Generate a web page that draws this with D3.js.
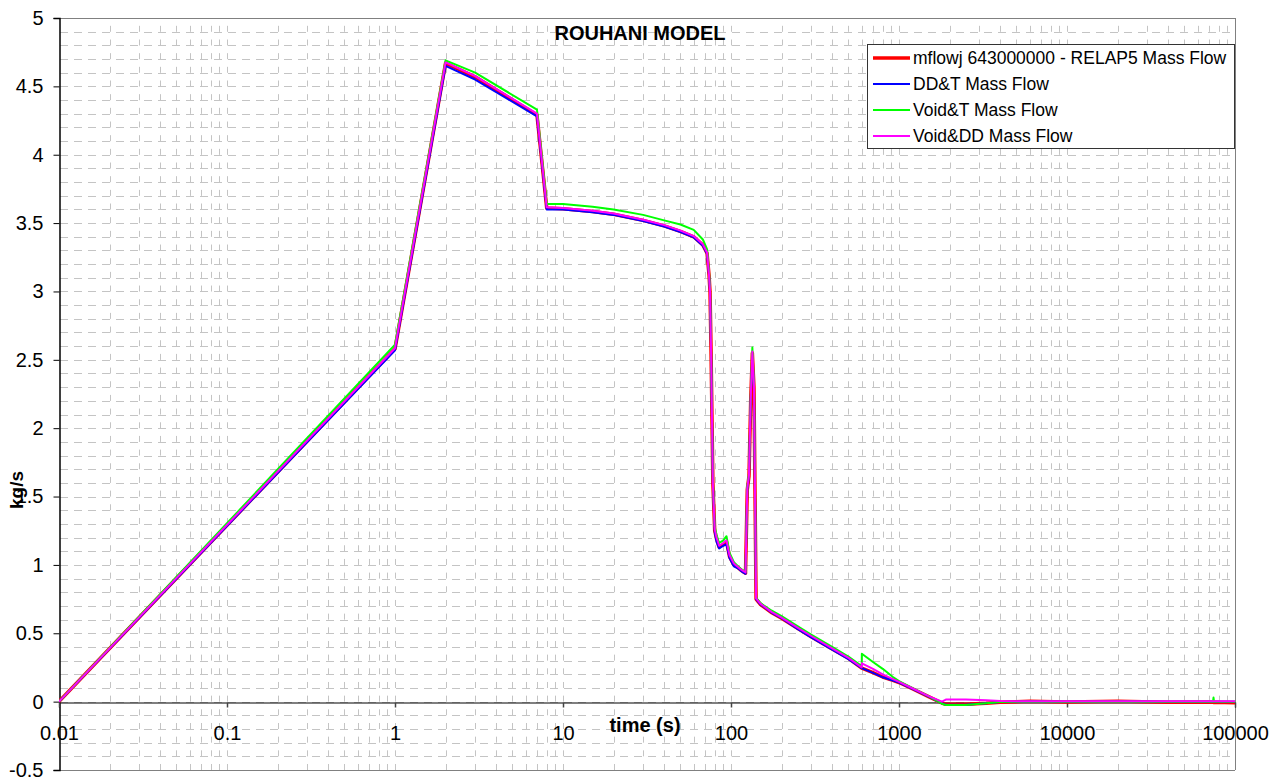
<!DOCTYPE html>
<html>
<head>
<meta charset="utf-8">
<script src="https://cdn.jsdelivr.net/npm/d3@7"></script>
<style>
html,body{margin:0;padding:0;background:#fff;}
svg{display:block;font-family:Arial,"Liberation Sans",sans-serif;}
</style>
</head>
<body>
<svg id="chart" width="1283" height="780"></svg>
<script>
// ---- data ----
const times = [0.01, 1, 2, 3, 7, 8, 10, 15, 20, 30,
  40, 50, 60, 68, 72, 74, 75, 76, 77, 78,
  80, 82, 85, 90, 94, 98, 104, 110, 115, 120,
  122, 125, 128, 131, 134, 137, 141, 150, 175, 200,
  250, 300, 400, 500, 600, 601, 700, 800, 920, 1000,
  1200, 1500, 1800, 1900, 2500, 3300, 4000, 6000, 10000, 20000,
  40000, 74000, 74500, 75000, 100000];

const relap5 = [0, 2.58, 4.67, 4.57, 4.29, 3.61, 3.605, 3.585, 3.565, 3.52,
  3.48, 3.44, 3.40, 3.34, 3.28, 3.12, 3.00, 2.60, 2.10, 1.60,
  1.25, 1.19, 1.13, 1.15, 1.17, 1.06, 1.00, 0.98, 0.96, 0.945,
  0.94, 1.55, 1.65, 2.20, 2.55, 2.30, 0.75, 0.71, 0.65, 0.61,
  0.535, 0.475, 0.385, 0.317, 0.245, 0.245, 0.212, 0.18, 0.155, 0.14,
  0.094, 0.037, -0.01, -0.02, -0.02, -0.012, -0.004, 0.002, -0.003, 0.002,
  -0.004, -0.003, -0.006, -0.005, -0.008];

const ddt = [0, 2.57, 4.65, 4.55, 4.28, 3.60, 3.60, 3.58, 3.56, 3.515,
  3.475, 3.435, 3.395, 3.335, 3.275, 3.12, 3.00, 2.60, 2.10, 1.60,
  1.24, 1.17, 1.12, 1.14, 1.15, 1.05, 0.99, 0.975, 0.955, 0.94,
  0.935, 1.55, 1.65, 2.20, 2.52, 2.30, 0.75, 0.71, 0.65, 0.61,
  0.53, 0.47, 0.38, 0.31, 0.245, 0.245, 0.21, 0.178, 0.155, 0.14,
  0.094, 0.037, -0.012, -0.022, -0.022, -0.012, -0.003, 0.001, 0.0, 0.001,
  0.0, 0.0, 0.0, 0.0, 0.0];

const voidT = [0, 2.61, 4.69, 4.60, 4.33, 3.64, 3.64, 3.62, 3.60, 3.56,
  3.52, 3.49, 3.45, 3.38, 3.31, 3.14, 3.02, 2.62, 2.12, 1.62,
  1.28, 1.22, 1.16, 1.18, 1.21, 1.09, 1.02, 0.99, 0.97, 0.955,
  0.95, 1.57, 1.67, 2.22, 2.59, 2.32, 0.76, 0.72, 0.665, 0.625,
  0.55, 0.49, 0.40, 0.33, 0.26, 0.35, 0.29, 0.24, 0.18, 0.15,
  0.10, 0.04, -0.015, -0.025, -0.025, -0.012, -0.002, 0.0, 0.0, 0.0,
  0.0, 0.0, 0.03, 0.0, 0.0];

const voidDD = [0, 2.585, 4.675, 4.575, 4.30, 3.615, 3.61, 3.59, 3.57, 3.525,
  3.485, 3.445, 3.405, 3.345, 3.285, 3.12, 3.00, 2.60, 2.10, 1.60,
  1.26, 1.20, 1.14, 1.16, 1.18, 1.07, 1.01, 0.985, 0.965, 0.95,
  0.945, 1.56, 1.66, 2.21, 2.56, 2.31, 0.755, 0.715, 0.655, 0.615,
  0.54, 0.48, 0.39, 0.32, 0.25, 0.28, 0.24, 0.20, 0.165, 0.145,
  0.098, 0.04, 0.0, 0.015, 0.015, 0.01, 0.004, 0.003, 0.002, 0.002,
  0.002, 0.002, 0.002, 0.002, 0.002];

const seriesNames = ["mflowj 643000000 - RELAP5 Mass Flow", "DD&T Mass Flow", "Void&T Mass Flow", "Void&DD Mass Flow"];
const seriesColors = ["#ff0000", "#0000ff", "#00ff00", "#ff00ff"];
const seriesWidths = [3.5, 2, 2, 2];
const seriesValues = [relap5, ddt, voidT, voidDD];

const xTicks = [0.01, 0.1, 1, 10, 100, 1000, 10000, 100000];
const xTickLabels = ["0.01", "0.1", "1", "10", "100", "1000", "10000", "100000"];
const yTicks = [-0.5, 0, 0.5, 1, 1.5, 2, 2.5, 3, 3.5, 4, 4.5, 5];
const yTickLabels = ["-0.5", "0", "0.5", "1", "1.5", "2", "2.5", "3", "3.5", "4", "4.5", "5"];

const titleText = "ROUHANI MODEL";
const xTitle = "time (s)";
const yTitle = "kg/s";

// ---- layout ----
const L = 59, R = 1235, T = 18, B = 770;
const svg = d3.select("#chart");
const x = d3.scaleLog().domain([0.01, 100000]).range([L, R]);
const y = d3.scaleLinear().domain([-0.5, 5]).range([B, T]);

svg.append("defs").append("clipPath").attr("id", "clip")
  .append("rect").attr("x", L).attr("y", T).attr("width", R - L).attr("height", B - T);

// grid
const grid = svg.append("g");
const minorX = [];
for (let e = -2; e <= 4; e++) for (let k = 1; k <= 9; k++) {
  const v = k * Math.pow(10, e);
  if (v > 0.01 && v < 100000) minorX.push(+v.toPrecision(3));
}
const hy = d3.range(-4, 50).map(i => i / 10);
grid.selectAll(".hg").data(hy).join("line")
  .attr("x1", L + 1).attr("x2", R)
  .attr("y1", d => Math.round(y(d)) + 0.5).attr("y2", d => Math.round(y(d)) + 0.5)
  .attr("stroke", "#c4c4c4").attr("stroke-width", 1)
  .attr("stroke-dasharray", "8,6");
grid.selectAll(".vg").data(minorX).join("line")
  .attr("x1", d => Math.round(x(d)) + 0.5).attr("x2", d => Math.round(x(d)) + 0.5)
  .attr("y1", B).attr("y2", T)
  .attr("stroke", "#c4c4c4").attr("stroke-width", 1)
  .attr("stroke-dasharray", "6,7.67");

// frame
svg.append("line").attr("x1", L).attr("x2", R).attr("y1", T + 0.5).attr("y2", T + 0.5).attr("stroke", "#808080");
svg.append("line").attr("x1", R + 0.5).attr("x2", R + 0.5).attr("y1", T).attr("y2", B).attr("stroke", "#808080");
svg.append("line").attr("x1", L).attr("x2", R).attr("y1", B + 0.5).attr("y2", B + 0.5).attr("stroke", "#808080");

// y axis title (drawn beneath tick labels)
svg.append("text").attr("transform", "translate(23,490) rotate(-90)").attr("text-anchor", "middle")
  .attr("font-size", 19).attr("font-weight", "bold").text(yTitle);

// y axis
const yAxis = d3.axisLeft(y).tickValues(yTicks).tickSize(6).tickPadding(10)
  .tickFormat((d, i) => yTickLabels[i]);
const gy = svg.append("g").attr("transform", `translate(${L + 0.5},0)`).call(yAxis);
gy.select(".domain").attr("stroke", "#000").attr("stroke-width", 1.5);
gy.selectAll(".tick line").attr("stroke", "#000");
gy.selectAll("text").attr("font-size", 20).attr("fill", "#000")
  .attr("font-family", "Arial, 'Liberation Sans', sans-serif");

// x axis at y=0
const xAxis = d3.axisBottom(x).tickValues(xTicks).tickSize(5).tickPadding(18)
  .tickFormat((d, i) => xTickLabels[i]);
const gx = svg.append("g").attr("transform", `translate(0,${Math.round(y(0)) + 0.5})`).call(xAxis);
gx.select(".domain").attr("stroke", "#000").attr("stroke-width", 1);
gx.selectAll(".tick line").attr("stroke", "#444").attr("stroke-width", 1.5);
gx.selectAll("text").attr("font-size", 20).attr("fill", "#000")
  .attr("font-family", "Arial, 'Liberation Sans', sans-serif");

// series
const lineGen = d3.line().x((d, i) => x(times[i])).y(d => y(d));
const plot = svg.append("g").attr("clip-path", "url(#clip)");
seriesValues.forEach((vals, s) => {
  plot.append("path").datum(vals)
    .attr("d", lineGen)
    .attr("fill", "none")
    .attr("stroke", seriesColors[s])
    .attr("stroke-width", seriesWidths[s])
    .attr("stroke-linejoin", "round");
});

// titles
svg.append("text").attr("x", 640).attr("y", 40).attr("text-anchor", "middle")
  .attr("font-size", 20).attr("font-weight", "bold").text(titleText);
svg.append("text").attr("x", 645).attr("y", 732).attr("text-anchor", "middle")
  .attr("font-size", 20).attr("font-weight", "bold").text(xTitle);

// legend
const lg = svg.append("g");
lg.append("rect").attr("x", 867.5).attr("y", 44.5).attr("width", 367).attr("height", 104)
  .attr("fill", "#fff").attr("stroke", "#333").attr("stroke-width", 1);
seriesNames.forEach((n, i) => {
  const yy = 58 + i * 26;
  lg.append("line").attr("x1", 873).attr("x2", 910).attr("y1", yy).attr("y2", yy)
    .attr("stroke", seriesColors[i]).attr("stroke-width", i === 0 ? 3.5 : 2);
  lg.append("text").attr("x", 913).attr("y", yy + 6).attr("font-size", 17.5).text(n);
});
</script>
</body>
</html>
